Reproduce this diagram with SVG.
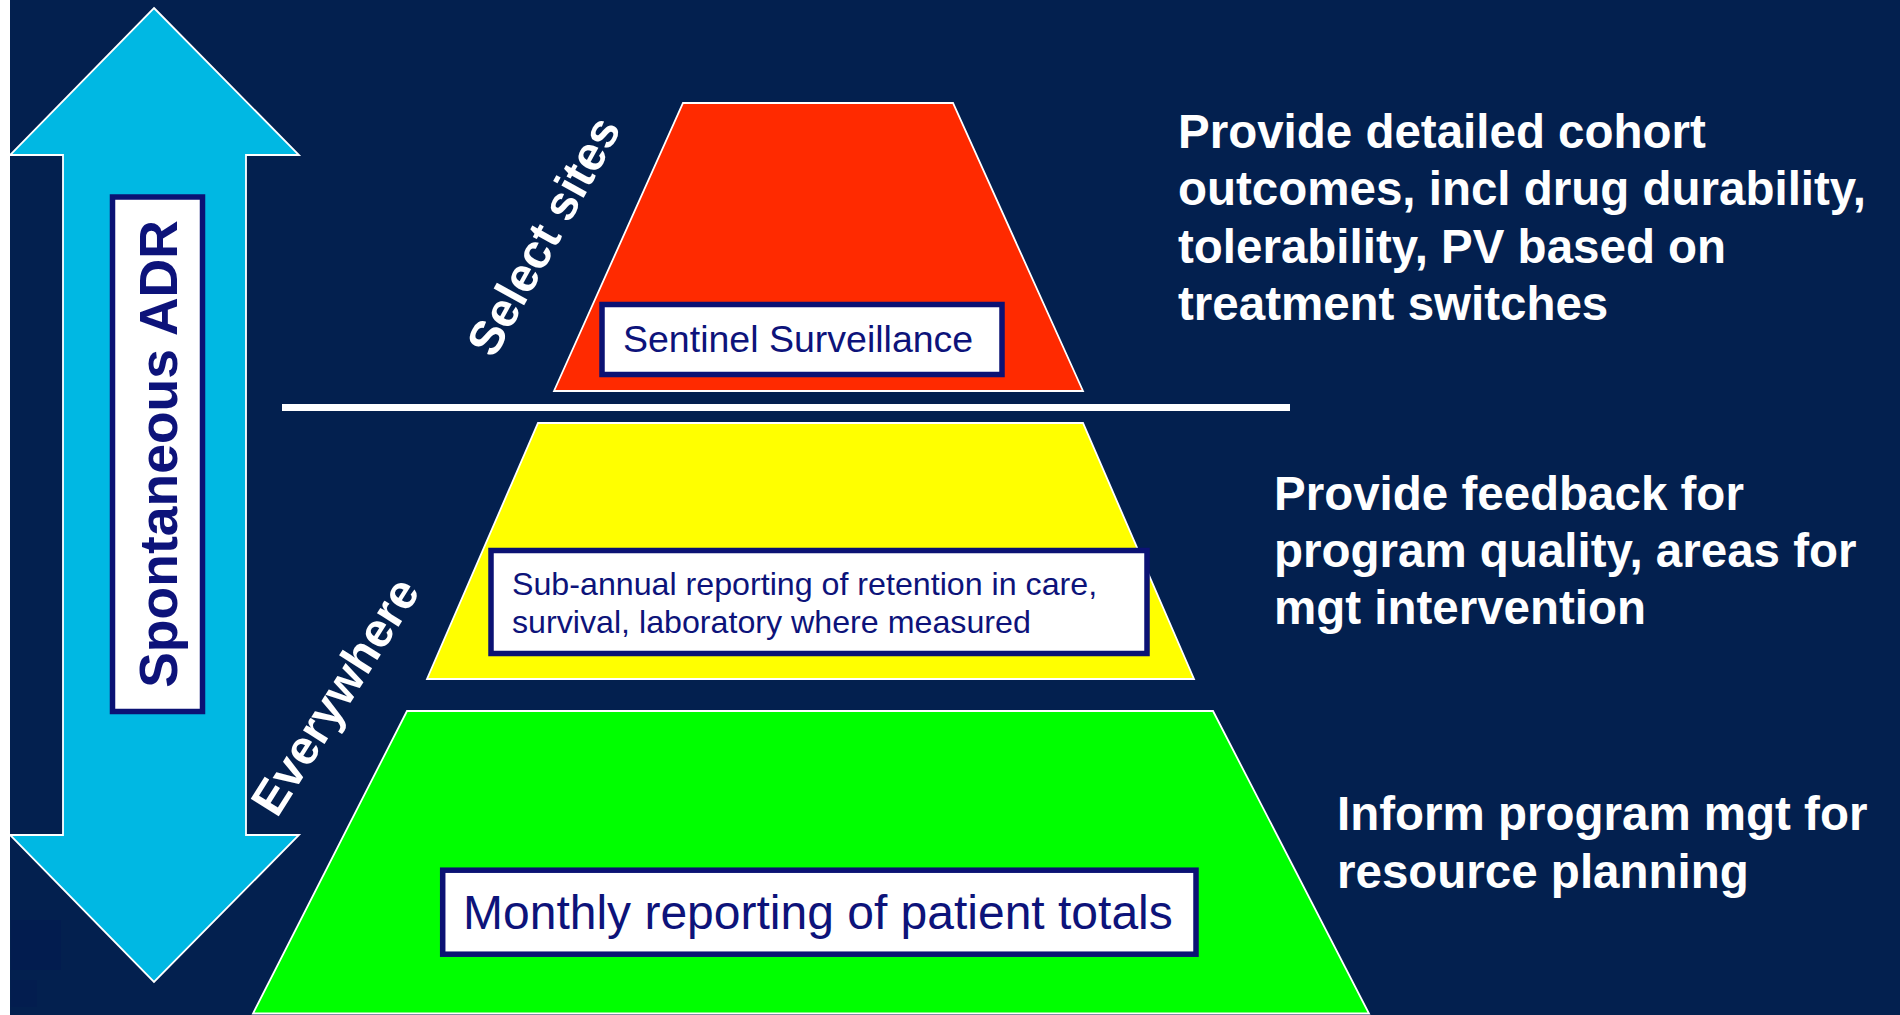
<svg xmlns="http://www.w3.org/2000/svg" width="1900" height="1015" viewBox="0 0 1900 1015">
  <style>
    .tier { stroke: #ffffff; stroke-width: 1.8; stroke-linejoin: miter; }
    .box { fill: #ffffff; stroke: #0b1274; stroke-width: 5.5; }
    .boxtext { font-family: "Liberation Sans", Arial, sans-serif; fill: #0d137a; }
    .side { font-family: "Liberation Sans", Arial, sans-serif; font-weight: bold; fill: #ffffff; font-size: 47.5px; }
    .slant { font-family: "Liberation Sans", Arial, sans-serif; font-weight: bold; fill: #ffffff; font-size: 48px; }
  </style>

  <!-- slide background with white left margin -->
  <rect x="0" y="0" width="1900" height="1015" fill="#ffffff"/>
  <rect x="10" y="0" width="1890" height="1015" fill="#03204f"/>
  <!-- faint leftover marks in the lower-left corner -->
  <rect x="11" y="920" width="50" height="50" fill="#021650" opacity="0.35"/>
  <rect x="11" y="980" width="26" height="27" fill="#021650" opacity="0.3"/>

  <!-- double-headed arrow: Spontaneous ADR -->
  <g id="adr-arrow">
    <polygon points="154,8 299,155 246,155 246,835 299,835 154,982 10,835 63,835 63,155 10,155"
             fill="#00b8e3" stroke="#ffffff" stroke-width="1.8"/>
    <rect class="box" x="112.5" y="197" width="90" height="514.5"/>
    <text class="boxtext" transform="translate(177,454) rotate(-90)" text-anchor="middle"
          font-size="53.5" font-weight="bold">Spontaneous ADR</text>
  </g>

  <!-- top tier: sentinel surveillance -->
  <g id="tier-sentinel">
    <polygon class="tier" points="683,103 953,103 1083,391 554,391" fill="#ff2a00"/>
    <rect class="box" x="602" y="304.5" width="400" height="70"/>
    <text class="boxtext" x="623" y="352" font-size="37.5">Sentinel Surveillance</text>
  </g>

  <!-- separator between select sites and everywhere -->
  <g id="connectors">
    <line x1="282" y1="407.5" x2="1290" y2="407.5" stroke="#ffffff" stroke-width="7"/>
  </g>

  <!-- middle tier: sub-annual reporting -->
  <g id="tier-subannual">
    <polygon class="tier" points="538,423 1083,423 1194,679 427,679" fill="#ffff00"/>
    <rect class="box" x="491" y="550.5" width="656" height="103" stroke-width="6"/>
    <text class="boxtext" font-size="32.2">
      <tspan x="512" y="595">Sub-annual reporting of retention in care,</tspan>
      <tspan x="512" y="633">survival, laboratory where measured</tspan>
    </text>
  </g>

  <!-- bottom tier: monthly reporting -->
  <g id="tier-monthly">
    <polygon class="tier" points="407,711 1213,711 1369,1013.5 253,1013.5" fill="#00ff00"/>
    <rect class="box" x="442.7" y="870.2" width="753.3" height="84"/>
    <text class="boxtext" x="463" y="929" font-size="48">Monthly reporting of patient totals</text>
  </g>

  <!-- slanted scope labels -->
  <g id="label-select-sites">
    <text class="slant" transform="translate(558,244) rotate(-61)" text-anchor="middle">Select sites</text>
  </g>
  <g id="label-everywhere">
    <text class="slant" transform="translate(349,705) rotate(-57.7)" text-anchor="middle">Everywhere</text>
  </g>

  <!-- purpose statements on the right -->
  <g id="purpose-sentinel">
    <text class="side">
      <tspan x="1178" y="147.5">Provide detailed cohort</tspan>
      <tspan x="1178" y="205">outcomes, incl drug durability,</tspan>
      <tspan x="1178" y="262.5">tolerability, PV based on</tspan>
      <tspan x="1178" y="320">treatment switches</tspan>
    </text>
  </g>
  <g id="purpose-subannual">
    <text class="side">
      <tspan x="1274" y="510">Provide feedback for</tspan>
      <tspan x="1274" y="567">program quality, areas for</tspan>
      <tspan x="1274" y="624">mgt intervention</tspan>
    </text>
  </g>
  <g id="purpose-monthly">
    <text class="side">
      <tspan x="1337" y="830">Inform program mgt for</tspan>
      <tspan x="1337" y="887.5">resource planning</tspan>
    </text>
  </g>
</svg>
